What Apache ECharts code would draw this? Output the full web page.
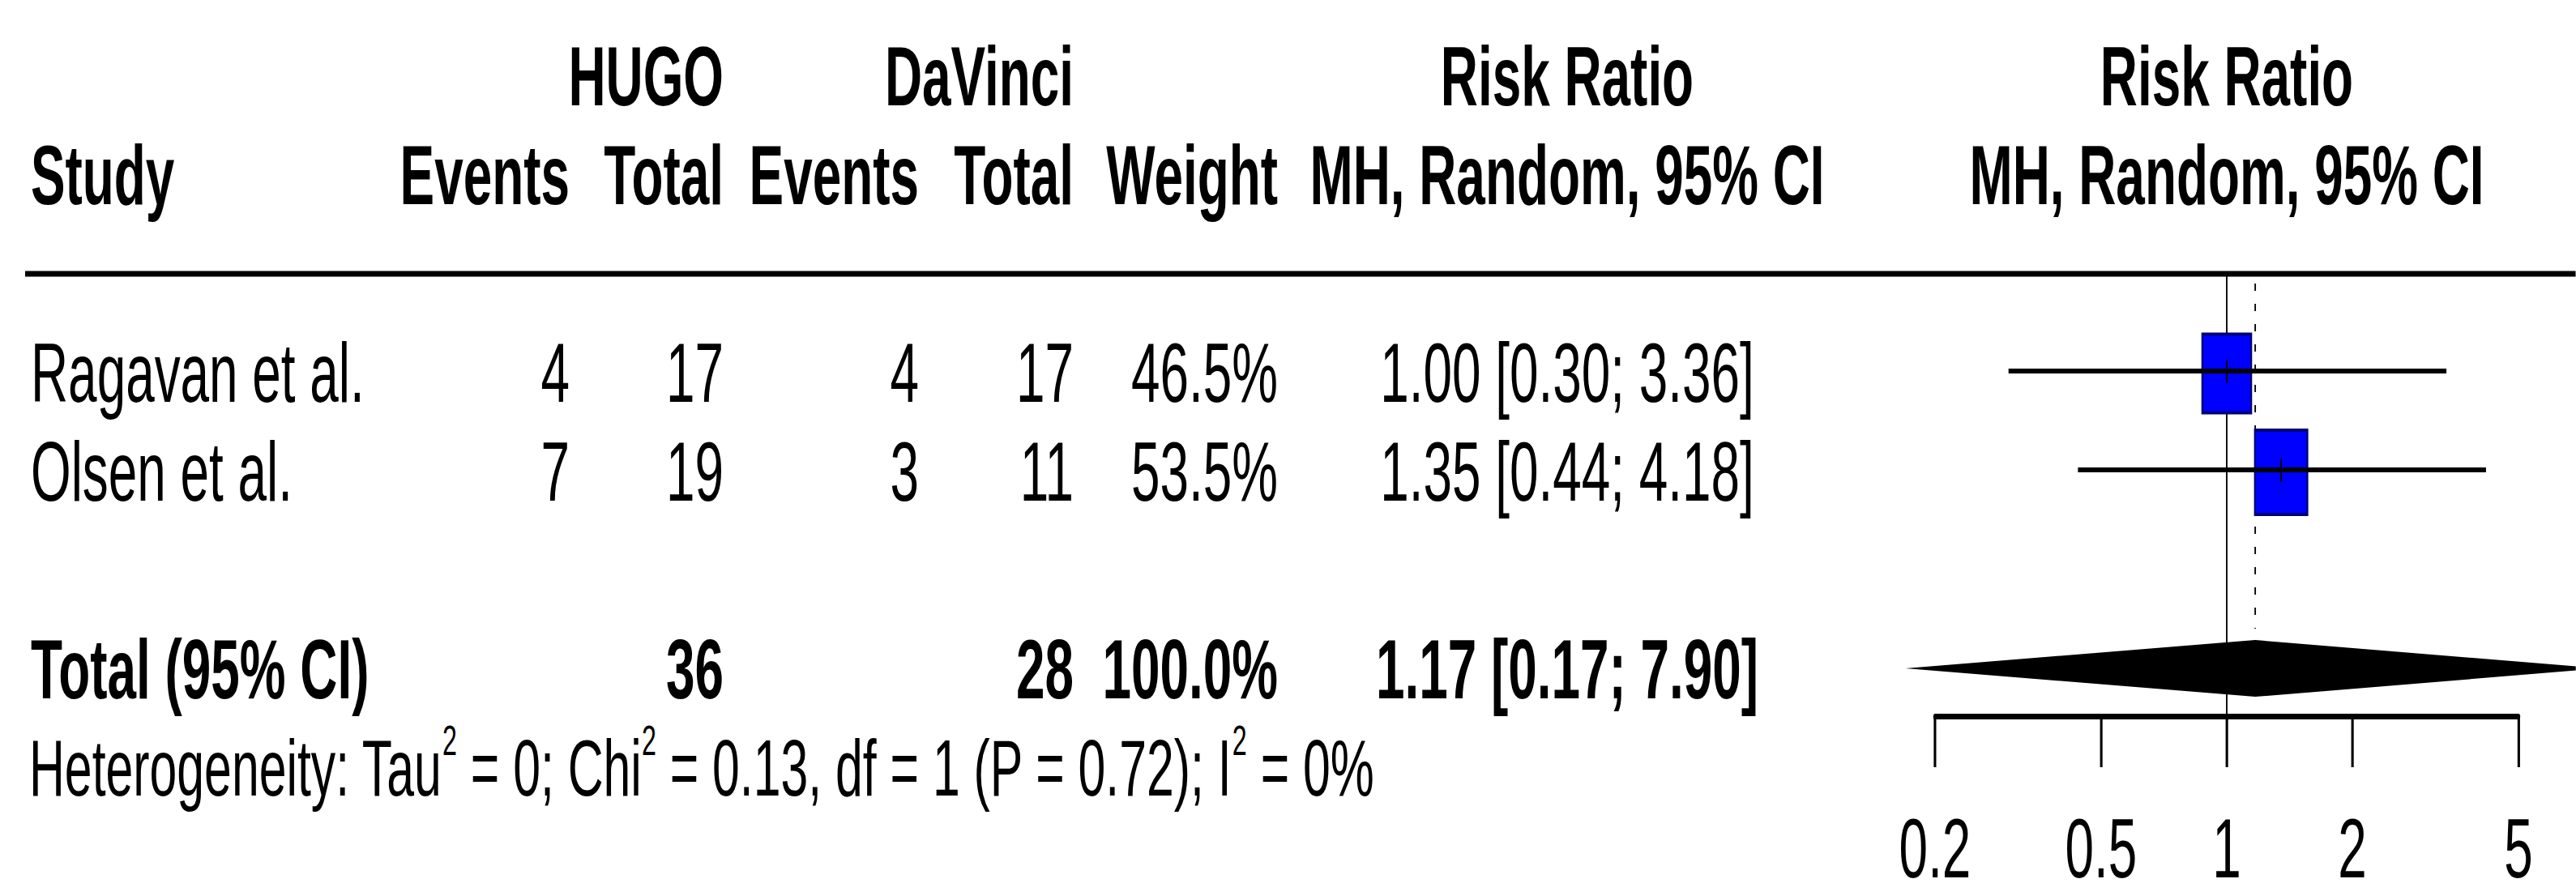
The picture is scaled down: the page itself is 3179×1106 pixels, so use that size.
<!DOCTYPE html>
<html>
<head>
<meta charset="utf-8">
<title>Risk Ratio - HUGO vs DaVinci</title>
<script src="https://cdn.jsdelivr.net/npm/echarts@6/dist/echarts.min.js"></script>
<style>
html, body { margin: 0; padding: 0; background: #fff; overflow: hidden; }
/* the reference is drawn tall and narrow, so the chart is laid out wide and squeezed */
#chart { width: 5128px; height: 1106px; transform: scaleX(0.62); transform-origin: 0 0; }
</style>
</head>
<body>
<div id="chart"></div>
<script>
//研究数据
const studies = ['Ragavan et al.', 'Olsen et al.'];
const hugoEvents = [4, 7];
const hugoTotal = [17, 19];
const davinciEvents = [4, 3];
const davinciTotal = [17, 11];
const weights = [46.5, 53.5];
const rr = [1.00, 1.35];
const rrLower = [0.30, 0.44];
const rrUpper = [3.36, 4.18];

//合并结果
const pooledHugoTotal = 36;
const pooledDavinciTotal = 28;
const pooledWeight = 100.0;
const pooledRR = [1.17, 0.17, 7.90];
const hetValues = ['0', '0.13', '1', '0.72', '0%'];

//坐标轴
const axisTicks = [0.2, 0.5, 1, 2, 5];

const SX = 0.62;
const H = 1106;
const W = Math.round(3179 / SX);
const FONT = "'Liberation Sans', Arial, sans-serif";
const FS = 103;
function vx(px) { return px / SX; }

const AXIS_ROW = 4.475;
const ROW = { head1: -2, head2: -1, rule: 0, pooled: 4, het: 5 };

//表格列
const cols = [
	{ x: vx(38), align: 'left' },
	{ x: vx(703), align: 'right' },
	{ x: vx(893), align: 'right' },
	{ x: vx(1134), align: 'right' },
	{ x: vx(1325), align: 'right' },
	{ x: vx(1577), align: 'right' },
	{ x: vx(1934), align: 'center' },
	{ x: null, align: 'center' }
];

function fmtCI(e, l, u) {
	return e.toFixed(2) + ' [' + l.toFixed(2) + '; ' + u.toFixed(2) + ']';
}

let tableRows = [
	{ row: ROW.head1, bold: true, cells: ['', '', 'HUGO', '', 'DaVinci', '', 'Risk Ratio', 'Risk Ratio'] },
	{ row: ROW.head2, bold: true, cells: ['Study', 'Events', 'Total', 'Events', 'Total', 'Weight', 'MH, Random, 95% CI', 'MH, Random, 95% CI'] }
];
studies.forEach(function (s, i) {
	tableRows.push({
		row: i + 1, bold: false,
		cells: [s, String(hugoEvents[i]), String(hugoTotal[i]), String(davinciEvents[i]), String(davinciTotal[i]),
			weights[i].toFixed(1) + '%', fmtCI(rr[i], rrLower[i], rrUpper[i]), '']
	});
});
tableRows.push({
	row: ROW.pooled, bold: true,
	cells: ['Total (95% CI)', '', String(pooledHugoTotal), '', String(pooledDavinciTotal),
		pooledWeight.toFixed(1) + '%', fmtCI(pooledRR[0], pooledRR[1], pooledRR[2]), '']
});

const hetText = '{n|Heterogeneity: Tau}{s|2}{n| = ' + hetValues[0] + '; Chi}{s|2}{n| = ' + hetValues[1] +
	', df = ' + hetValues[2] + ' (P = ' + hetValues[3] + '); I}{s|2}{n| = ' + hetValues[4] + '}';

function renderTable(params, api) {
	let r = tableRows[params.dataIndex];
	let y = api.coord([1, r.row])[1];
	let xMid = api.coord([1, r.row])[0];
	let children = [];
	r.cells.forEach(function (t, c) {
		if (!t) return;
		children.push({
			type: 'text',
			x: cols[c].x === null ? xMid : cols[c].x,
			y: y,
			style: {
				text: t, fill: '#000', fontSize: FS, fontFamily: FONT,
				fontWeight: r.bold ? 'bold' : 'normal',
				align: cols[c].align, verticalAlign: 'middle'
			}
		});
	});
	return { type: 'group', children: children };
}

function renderHet(params, api) {
	let y = api.coord([1, ROW.het])[1];
	return {
		type: 'text', x: vx(36), y: y,
		style: {
			text: hetText, align: 'left', verticalAlign: 'middle',
			rich: {
				n: { fontSize: 98, fontFamily: FONT, fill: '#000', lineHeight: 120, verticalAlign: 'middle' },
				s: { fontSize: 52, fontFamily: FONT, fill: '#000', lineHeight: 52, verticalAlign: 'top' }
			}
		}
	};
}

function renderRule(params, api) {
	let y = api.coord([1, ROW.rule])[1];
	return { type: 'line', shape: { x1: vx(31), y1: y, x2: W, y2: y }, style: { stroke: '#000', lineWidth: 7 } };
}

function renderRef(params, api) {
	let top = api.coord([1, ROW.rule]);
	let bot = api.coord([1, AXIS_ROW]);
	return { type: 'line', shape: { x1: top[0], y1: top[1], x2: bot[0], y2: bot[1] }, style: { stroke: '#000', lineWidth: 3 } };
}

function renderPooledLine(params, api) {
	let top = api.coord([api.value(0), ROW.rule]);
	let c = api.coord([api.value(0), ROW.pooled]);
	return {
		type: 'line',
		shape: { x1: top[0], y1: top[1] + 12, x2: c[0], y2: c[1] - 50 },
		style: { stroke: '#000', lineWidth: 3, lineDash: [9, 16] }
	};
}

//方框大小随权重
const BOX_K = 104 / Math.sqrt(53.5);
function renderStudy(params, api) {
	let row = api.value(1);
	let c = api.coord([api.value(0), row]);
	let lo = api.coord([api.value(2), row]);
	let hi = api.coord([api.value(3), row]);
	let side = BOX_K * Math.sqrt(api.value(4));
	return {
		type: 'group',
		children: [
			{ type: 'rect', shape: { x: c[0] - side / 2, y: c[1] - side / 2 + 1, width: side, height: side },
				style: { fill: '#0000FF', stroke: '#00007A', lineWidth: 4 } },
			{ type: 'line', shape: { x1: lo[0], y1: c[1] - 2, x2: hi[0], y2: c[1] - 2 },
				style: { stroke: '#000', lineWidth: 6 } },
			{ type: 'line', shape: { x1: c[0], y1: c[1] - 16, x2: c[0], y2: c[1] + 13 },
				style: { stroke: '#000', lineWidth: 3 } }
		]
	};
}

function renderDiamond(params, api) {
	let row = api.value(1);
	let c = api.coord([api.value(0), row]);
	let lo = api.coord([api.value(2), row]);
	let hi = api.coord([api.value(3), row]);
	let h = 35;
	return {
		type: 'polygon',
		shape: { points: [[lo[0], c[1] - 1], [c[0], c[1] - h - 1], [hi[0], c[1] - 1], [c[0], c[1] + h - 1]] },
		style: { fill: '#000' }
	};
}

const chart = echarts.init(document.getElementById('chart'), null, { renderer: 'svg', width: W, height: H });

chart.setOption({
	backgroundColor: '#fff',
	animation: false,
	grid: { left: vx(2388), width: vx(720), top: 338, height: 546 },
	xAxis: {
		type: 'log', logBase: 10, min: 0.2, max: 5, position: 'bottom',
		splitLine: { show: false },
		axisLine: { show: true, onZero: false, lineStyle: { color: '#000', width: 7 } },
		axisTick: { show: true, customValues: axisTicks, length: 63, inside: false, lineStyle: { color: '#000', width: 5 } },
		axisLabel: {
			customValues: axisTicks, margin: 125, color: '#000', fontSize: FS, lineHeight: 76, fontFamily: FONT,
			formatter: function (v) { return String(parseFloat(Number(v).toPrecision(6))); }
		}
	},
	yAxis: { type: 'value', min: 0, max: AXIS_ROW, inverse: true, show: false },
	series: [
		{ type: 'custom', name: 'rule', clip: false, data: [[1, ROW.rule]], renderItem: renderRule, silent: true },
		{ type: 'custom', name: 'ref', clip: false, data: [[1, 0]], renderItem: renderRef, silent: true },
		{ type: 'custom', name: 'pooled-line', clip: false, data: [[pooledRR[0], ROW.pooled]], renderItem: renderPooledLine, silent: true },
		{
			type: 'custom', name: 'studies', clip: false, silent: true,
			data: studies.map(function (s, i) { return [rr[i], i + 1, rrLower[i], rrUpper[i], weights[i]]; }),
			renderItem: renderStudy
		},
		{
			type: 'custom', name: 'pooled', clip: false, silent: true,
			data: [[pooledRR[0], ROW.pooled, pooledRR[1], pooledRR[2]]],
			renderItem: renderDiamond
		},
		{
			type: 'custom', name: 'table', clip: false, silent: true,
			data: tableRows.map(function (r) { return [1, r.row]; }),
			renderItem: renderTable
		},
		{ type: 'custom', name: 'heterogeneity', clip: false, silent: true, data: [[1, ROW.het]], renderItem: renderHet }
	]
});
</script>
</body>
</html>
